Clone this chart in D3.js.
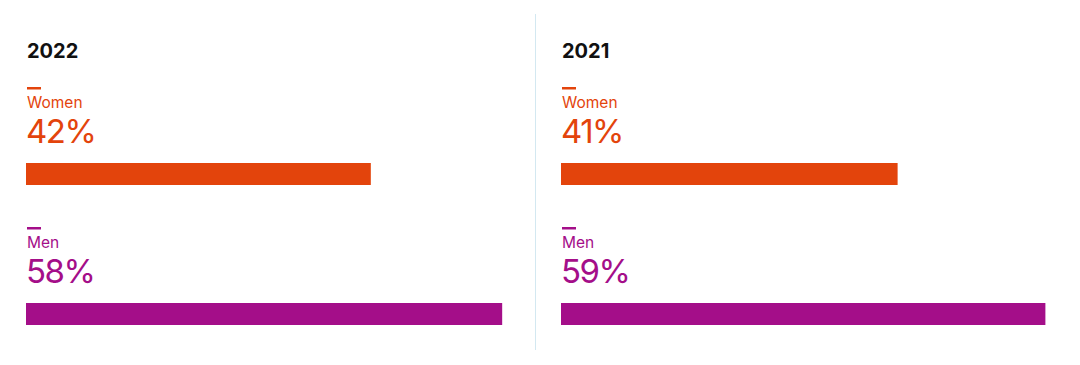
<!DOCTYPE html>
<html><head><meta charset="utf-8">
<script src="https://cdn.jsdelivr.net/npm/d3@7"></script>
<style>
html,body{margin:0;padding:0;background:#fff;}
svg{display:block;font-family:Inter, "Noto Sans", sans-serif;}
</style></head>
<body>
<svg id="chart" width="1080" height="365"></svg>
<script>
const years = ["2022", "2021"];
const categories = ["Women", "Men"];
const values2022 = [42, 58];
const values2021 = [41, 59];
const seriesValues = [values2022, values2021];
const colors = ["#e3440c", "#a40e89"];

const svg = d3.select("#chart");
const panelX = d3.scaleOrdinal().domain(years).range([26, 561]);
const x = d3.scaleLinear().domain([0, 100]).range([0, 821]);
const rowY = d3.scaleOrdinal().domain(categories).range([0, 140]);

// divider
svg.append("line").attr("x1", 535.5).attr("x2", 535.5).attr("y1", 14).attr("y2", 350)
  .attr("stroke", "#d3e8f1").attr("stroke-width", 1);

years.forEach((yr, i) => {
  const g = svg.append("g").attr("transform", `translate(${panelX(yr)},0)`);
  g.append("text").attr("x", 1).attr("y", 58).text(yr)
    .attr("font-size", 20).attr("font-weight", 700).attr("fill", "#111");
  categories.forEach((c, j) => {
    const v = seriesValues[i][j];
    const gy = g.append("g").attr("transform", `translate(0,${rowY(c)})`);
    gy.append("rect").attr("x", 1).attr("y", 87).attr("width", 14).attr("height", 2.5).attr("fill", colors[j]);
    gy.append("text").attr("x", 1).attr("y", 108).text(c)
      .attr("font-size", 15.5).attr("fill", colors[j]);
    gy.append("text").attr("x", 0).attr("y", 143).text(v + "%")
      .attr("font-size", 33).attr("font-weight", 400).attr("letter-spacing", -1.5).attr("fill", colors[j]);
    gy.append("rect").attr("x", 0).attr("y", 163).attr("width", x(v)).attr("height", 22).attr("fill", colors[j]);
  });
});
</script>
</body></html>
